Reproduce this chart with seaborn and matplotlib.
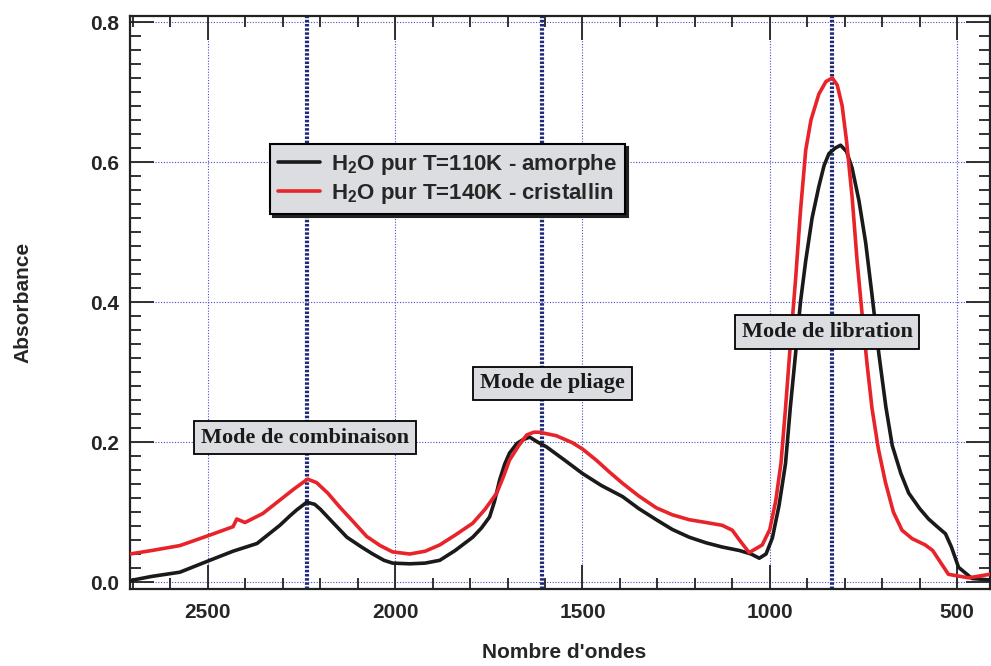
import numpy as np
import pandas as pd
import matplotlib
matplotlib.use('Agg')
import matplotlib.pyplot as plt
from matplotlib.ticker import MultipleLocator
import seaborn as sns

# ================= DATA =================
onde_amorphe = [2708, 2650, 2575, 2495, 2433, 2369, 2308, 2280, 2263, 2236,
                2215, 2200, 2170, 2129, 2090, 2060, 2030, 2007, 1961, 1920,
                1881, 1840, 1793, 1770, 1748, 1735, 1721, 1708, 1695, 1675,
                1660, 1641, 1620, 1596, 1550, 1500, 1450, 1393, 1350, 1303,
                1260, 1215, 1170, 1127, 1081, 1050, 1028, 1010, 993, 975,
                958, 945, 931, 918, 904, 887, 869, 855, 842, 825,
                811, 795, 780, 762, 744, 727, 709, 690, 673, 650,
                629, 600, 576, 555, 531, 515, 496, 460, 413]
abs_amorphe = [0.002, 0.008, 0.014, 0.031, 0.044, 0.055, 0.081, 0.095, 0.103, 0.114,
               0.111, 0.104, 0.087, 0.064, 0.050, 0.040, 0.031, 0.027, 0.026, 0.027,
               0.031, 0.045, 0.064, 0.077, 0.093, 0.115, 0.146, 0.168, 0.184, 0.198,
               0.203, 0.207, 0.200, 0.193, 0.175, 0.155, 0.138, 0.122, 0.105, 0.089,
               0.075, 0.064, 0.056, 0.050, 0.045, 0.040, 0.034, 0.040, 0.063, 0.110,
               0.169, 0.250, 0.327, 0.400, 0.459, 0.520, 0.565, 0.595, 0.612, 0.620,
               0.624, 0.615, 0.591, 0.545, 0.485, 0.410, 0.327, 0.250, 0.195, 0.155,
               0.127, 0.105, 0.090, 0.080, 0.069, 0.050, 0.021, 0.005, 0.003]

onde_cristal = [2708, 2650, 2575, 2495, 2433, 2423, 2401, 2353, 2308, 2270,
                2234, 2210, 2180, 2148, 2110, 2076, 2040, 2007, 1961, 1920,
                1881, 1840, 1793, 1760, 1729, 1710, 1695, 1670, 1649, 1630,
                1615, 1570, 1527, 1500, 1463, 1430, 1393, 1350, 1303, 1260,
                1215, 1170, 1127, 1100, 1081, 1055, 1020, 1000, 984, 970,
                958, 945, 931, 918, 904, 890, 869, 850, 833, 820,
                807, 795, 780, 767, 753, 740, 727, 710, 691, 670,
                647, 620, 585, 565, 549, 523, 469, 413]
abs_cristal = [0.040, 0.045, 0.052, 0.067, 0.079, 0.090, 0.085, 0.098, 0.117, 0.133,
               0.147, 0.142, 0.127, 0.107, 0.085, 0.065, 0.052, 0.043, 0.040, 0.044,
               0.053, 0.067, 0.084, 0.104, 0.127, 0.152, 0.174, 0.195, 0.210, 0.214,
               0.214, 0.209, 0.199, 0.190, 0.174, 0.158, 0.141, 0.123, 0.106, 0.096,
               0.089, 0.085, 0.081, 0.074, 0.060, 0.042, 0.053, 0.075, 0.116, 0.170,
               0.248, 0.340, 0.433, 0.530, 0.617, 0.660, 0.697, 0.715, 0.720, 0.710,
               0.681, 0.630, 0.549, 0.460, 0.380, 0.310, 0.248, 0.190, 0.142, 0.100,
               0.074, 0.062, 0.053, 0.045, 0.032, 0.011, 0.006, 0.011]

modes = ['Mode de combinaison', 'Mode de pliage', 'Mode de libration']
modes_x = [2236, 1607, 833]
labels_x = [2241, 1580, 847]
labels_y = [0.206, 0.284, 0.357]

legendes = [r'H$_\mathbf{2}$O pur T=110K - amorphe', r'H$_\mathbf{2}$O pur T=140K - cristallin']

# ================= STYLE =================
sns.set_style('ticks')
plt.rcParams['font.family'] = ['Liberation Sans', 'DejaVu Sans']
plt.rcParams['font.weight'] = 'bold'
plt.rcParams['mathtext.fontset'] = 'custom'
plt.rcParams['mathtext.bf'] = 'Liberation Sans:bold'
plt.rcParams['mathtext.rm'] = 'Liberation Sans:bold'

df = pd.concat([
    pd.DataFrame({'onde': onde_amorphe, 'abs': abs_amorphe, 'serie': legendes[0]}),
    pd.DataFrame({'onde': onde_cristal, 'abs': abs_cristal, 'serie': legendes[1]}),
])

fig = plt.figure(figsize=(9.91, 6.66), dpi=100)
ax = fig.add_axes([0.1312, 0.1156, 0.8678, 0.8604])

grid_col = '#4b4bc8'
for v in [0.0, 0.2, 0.4, 0.6, 0.8]:
    ax.axhline(v, color=grid_col, lw=0.8, ls=(0, (1, 1.5)), zorder=0)
for v in [2500, 2000, 1500, 1000, 500]:
    ax.axvline(v, color=grid_col, lw=0.8, ls=(0, (1, 1.5)), zorder=0)
for v in modes_x:
    ax.axvline(v, color='#1f2a7a', lw=3, ls=(0, (0.6, 0.4)), zorder=1)

sns.lineplot(data=df, x='onde', y='abs', hue='serie', palette=['#1a1a1a', '#e8232a'],
             lw=2.6, ax=ax, zorder=3)

ax.set_xlim(2708, 412)
ax.set_ylim(-0.01, 0.8086)
ax.xaxis.set_major_locator(MultipleLocator(500))
ax.xaxis.set_minor_locator(MultipleLocator(100))
ax.yaxis.set_major_locator(MultipleLocator(0.2))
ax.yaxis.set_minor_locator(MultipleLocator(0.02))
ax.yaxis.set_major_formatter(plt.FuncFormatter(lambda v, p: f'{v:.1f}'))
ax.tick_params(which='both', direction='in', top=True, right=True, width=1.3, color='#222222')
ax.tick_params(which='major', length=17, labelsize=15, pad=8)
ax.tick_params(axis='x', which='major', pad=10)
ax.tick_params(which='minor', length=8)
for s in ax.spines.values():
    s.set_linewidth(1.6)
    s.set_color('#222222')

ax.set_xlabel("Nombre d'ondes", fontsize=15, fontweight='bold')
ax.set_ylabel('Absorbance', fontsize=15, fontweight='bold')
ax.xaxis.set_label_coords(0.505, -0.095)
ax.yaxis.set_label_coords(-0.113, 0.5)

leg = ax.legend(loc='upper left', bbox_to_anchor=(0.163, 0.777), fontsize=16, frameon=True,
                fancybox=False, shadow={'color': '#222222', 'alpha': 1}, facecolor='#dcdde0',
                edgecolor='black', framealpha=1, handlelength=1.9, handletextpad=0.5,
                borderpad=0.35, labelspacing=0.2, borderaxespad=0, title=None)
leg.get_frame().set_linewidth(1.5)
for t in leg.get_texts():
    t.set_fontweight('bold')

for txt, x, y in zip(modes, labels_x, labels_y):
    ax.text(x, y, txt, ha='center', va='center', fontsize=16, fontweight='bold',
            family='Liberation Serif', color='#1a1a1a', zorder=5,
            bbox=dict(boxstyle='square,pad=0.3', facecolor='#dcdde0', edgecolor='black', lw=1.3))

fig.savefig('out.png', dpi=100)
